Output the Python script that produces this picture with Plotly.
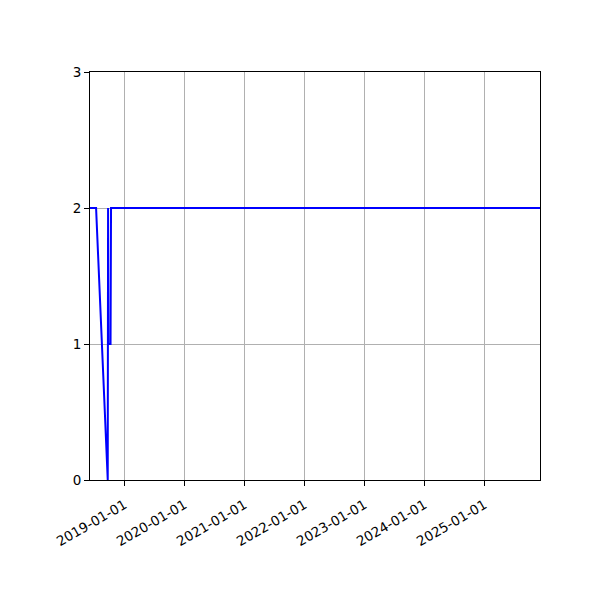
import plotly.graph_objects as go

# series
dates = ["2018-06-05", "2018-07-12", "2018-09-21", "2018-09-23", "2018-09-25",
         "2018-10-08", "2018-10-11", "2025-12-04"]
values = [2, 2, 0, 2, 1, 1, 2, 2]

tick_dates = ["2019-01-01", "2020-01-01", "2021-01-01", "2022-01-01",
              "2023-01-01", "2024-01-01", "2025-01-01"]
y_ticks = [0, 1, 2, 3]

fig = go.Figure()
fig.add_trace(go.Scatter(x=dates, y=values, mode='lines',
                         line=dict(color='#0000ff', width=2), showlegend=False))

axis_style = dict(showline=True, mirror=True, linecolor='black', linewidth=1,
                  ticks='outside', ticklen=5, tickcolor='black', tickwidth=1,
                  showgrid=True, gridcolor='#b0b0b0', gridwidth=1, zeroline=False,
                  tickfont=dict(family='DejaVu Sans', size=13.5, color='black'))

fig.update_xaxes(range=[dates[0], dates[-1]], tickvals=tick_dates, ticktext=tick_dates,
                 tickangle=-30, ticklabelstandoff=6, **axis_style)
fig.update_yaxes(range=[0, 3], tickvals=y_ticks, **axis_style)

# page body adds ~8px offset, so margins are shifted to compensate
fig.update_layout(width=600, height=600, plot_bgcolor='white', paper_bgcolor='white',
                  margin=dict(l=82, r=68, t=64, b=128),
                  font=dict(family='DejaVu Sans', size=13.5, color='black'))

fig.write_html("out.html")
